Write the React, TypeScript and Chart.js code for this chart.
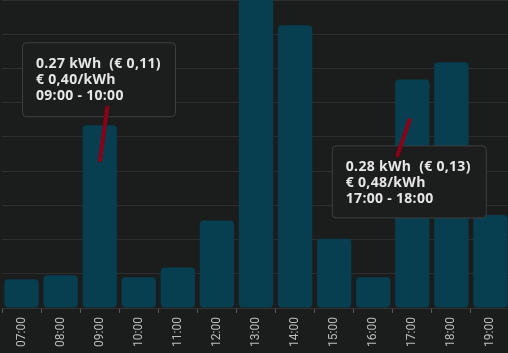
import React, { useEffect, useRef } from "react";
import { Chart, registerables } from "chart.js";

Chart.register(...registerables);

const hours = ["07:00", "08:00", "09:00", "10:00", "11:00", "12:00", "13:00", "14:00", "15:00", "16:00", "17:00", "18:00", "19:00"];
const usage = [0.042, 0.048, 0.267, 0.045, 0.059, 0.128, 0.5, 0.413, 0.101, 0.045, 0.334, 0.359, 0.136];
const yTicks = { min: 0, max: 0.45, step: 0.05 };

const tip1Lines = ["0.27 kWh  (€ 0,11)", "€ 0,40/kWh", "09:00 - 10:00"];
const tip2Lines = ["0.28 kWh  (€ 0,13)", "€ 0,48/kWh", "17:00 - 18:00"];
const tipIndices = [2, 10];

const BG = "#1b1c1c";
const FONT = "Roboto";
const TIP_FONT = "'Open Sans'";

const tipLayouts = [
  { box: [-77.7, -83, 153, 74], line: [7.6, -17.7, 0.3, 35] },
  { box: [-80.5, 66, 154, 72], line: [-2.8, 40.7, -14.8, 76] },
];

const tipPlugin = {
  id: "tips",
  afterDatasetsDraw(chart: any) {
    const ctx = chart.ctx;
    const meta = chart.getDatasetMeta(0);
    const texts = [tip1Lines, tip2Lines];
    tipIndices.forEach((idx, i) => {
      const el = meta.data[idx];
      const cx = el.x;
      const ty = el.y;
      const L = tipLayouts[i];
      const [bx, by, bw, bh] = L.box;
      const x0 = cx + bx;
      const y0 = ty + by;
      ctx.save();
      ctx.beginPath();
      ctx.roundRect(x0 + 0.5, y0 + 0.5, bw, bh, 4);
      ctx.fillStyle = "#1c1d1d";
      ctx.fill();
      ctx.strokeStyle = "#3e3f40";
      ctx.lineWidth = 1;
      ctx.stroke();
      ctx.fillStyle = "#e6e6e6";
      ctx.font = `bold 14px ${TIP_FONT}`;
      try {
        (ctx as any).letterSpacing = "0.3px";
      } catch (e) {}
      ctx.textBaseline = "alphabetic";
      ctx.textAlign = "left";
      texts[i].forEach((t, j) => {
        ctx.fillText(t, x0 + 14, y0 + 26 + j * 16);
      });
      try {
        (ctx as any).letterSpacing = "0px";
      } catch (e) {}
      const [lx1, ly1, lx2, ly2] = L.line;
      ctx.beginPath();
      ctx.moveTo(cx + lx1, ty + ly1);
      ctx.lineTo(cx + lx2, ty + ly2);
      ctx.strokeStyle = "#8a0017";
      ctx.lineWidth = 4;
      ctx.lineCap = "round";
      ctx.stroke();
      ctx.restore();
    });
  },
};

const bgPlugin = {
  id: "bg",
  beforeDraw(chart: any) {
    const ctx = chart.ctx;
    ctx.save();
    ctx.fillStyle = BG;
    ctx.fillRect(0, 0, chart.width, chart.height);
    ctx.restore();
  },
};

export default function App() {
  const ref = useRef<HTMLCanvasElement>(null);
  useEffect(() => {
    document.body.style.margin = "0";
    document.body.style.background = BG;
    document.body.style.overflow = "hidden";
    document.documentElement.style.overflow = "hidden";
    const chart = new Chart(ref.current!, {
      type: "bar",
      data: {
        labels: hours,
        datasets: [
          {
            data: usage,
            backgroundColor: "#073e50",
            borderRadius: 4,
            borderSkipped: false,
            categoryPercentage: 0.88,
            barPercentage: 1,
          },
        ],
      },
      options: {
        responsive: false,
        animation: false,
        devicePixelRatio: 1,
        layout: { padding: { left: 2, right: 0, top: 0, bottom: 0 } },
        plugins: { legend: { display: false }, tooltip: { enabled: false } },
        scales: {
          x: {
            grid: { display: true, drawOnChartArea: false, drawTicks: true, tickLength: 5, color: "#5a5a5a" },
            border: { display: true, color: "#333333" },
            ticks: { color: "#bdbdbd", font: { family: FONT, size: 12 }, maxRotation: 90, minRotation: 90, padding: 4 },
            afterFit: (s: any) => {
              s.height = 45;
            },
          },
          y: {
            min: yTicks.min,
            max: yTicks.max,
            ticks: { display: false, stepSize: yTicks.step },
            grid: { color: "#2e2e2e", drawTicks: false },
            border: { display: false },
            afterFit: (s: any) => {
              s.width = 0;
            },
          },
        },
      },
      plugins: [bgPlugin, tipPlugin],
    });
    return () => chart.destroy();
  }, []);
  return (
    <div style={{ width: 510, height: 353, overflow: "hidden" }}>
      <canvas ref={ref} width={510} height={353} style={{ display: "block" }} />
    </div>
  );
}
